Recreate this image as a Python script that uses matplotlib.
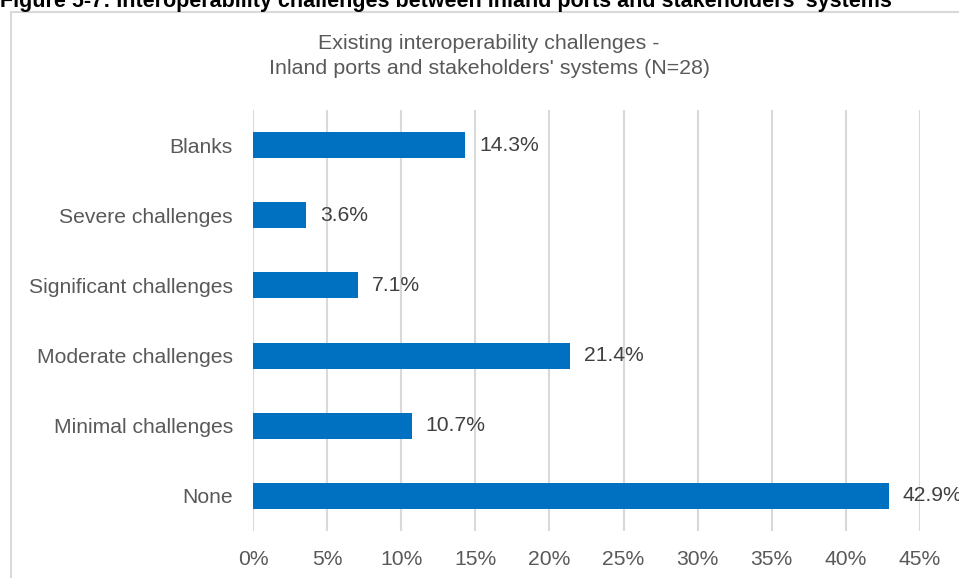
import matplotlib
matplotlib.use("Agg")
import matplotlib.pyplot as plt
from matplotlib.patches import Rectangle

categories = ["None", "Minimal challenges", "Moderate challenges",
              "Significant challenges", "Severe challenges", "Blanks"]
values = [42.9, 10.7, 21.4, 7.1, 3.6, 14.3]
xticks = [0, 5, 10, 15, 20, 25, 30, 35, 40, 45]
title = "Existing interoperability challenges -\nInland ports and stakeholders' systems (N=28)"
header = "Figure 5-7: Interoperability challenges between inland ports and stakeholders' systems"

W, H = 959, 578
fig = plt.figure(figsize=(W / 100, H / 100), dpi=100)
plt.rcParams['font.family'] = ['Liberation Sans', 'DejaVu Sans']

# chart border
fig.patches.append(Rectangle((10.5 / W, -0.1), 2.0, (H - 12.5) / H + 0.1,
                             transform=fig.transFigure, fill=False,
                             edgecolor="#D9D9D9", linewidth=1.5))
# header (clipped at top, as in the reference)
fig.text(0.0, 1 - 7 / H, header, ha="left", va="baseline",
         fontsize=15.5, fontweight="bold",
         family=["Liberation Sans Narrow", "Liberation Sans"], color="black")

ax = fig.add_axes([253 / W, (H - 531) / H, (920 - 253) / W, (531 - 110) / H])
ypos = list(range(len(categories)))
ax.barh(ypos, values, height=0.37, color="#0070C0", zorder=3)
ax.set_xlim(0, 45)
ax.set_ylim(-0.5, len(categories) - 0.5)
ax.set_yticks(ypos)
ax.set_yticklabels(categories, fontsize=15.2, color="#595959")
ax.set_xticks(xticks)
ax.set_xticklabels([f"{t}%" for t in xticks], fontsize=15.2, color="#595959")
ax.tick_params(axis="both", length=0)
ax.tick_params(axis="y", pad=14.5)
ax.tick_params(axis="x", pad=14)
ax.grid(axis="x", color="#D9D9D9", linewidth=1.5, zorder=0)
for s in ax.spines.values():
    s.set_visible(False)
for v, y in zip(values, ypos):
    ax.text(v + 0.95, y, f"{v:.1f}%", va="center", ha="left",
            fontsize=15.2, color="#404040", clip_on=False)

fig.text(489 / W, 1 - 56 / H, title, ha="center", va="center",
         fontsize=15.4, color="#595959", linespacing=1.45)

fig.savefig("out.png", dpi=100)
